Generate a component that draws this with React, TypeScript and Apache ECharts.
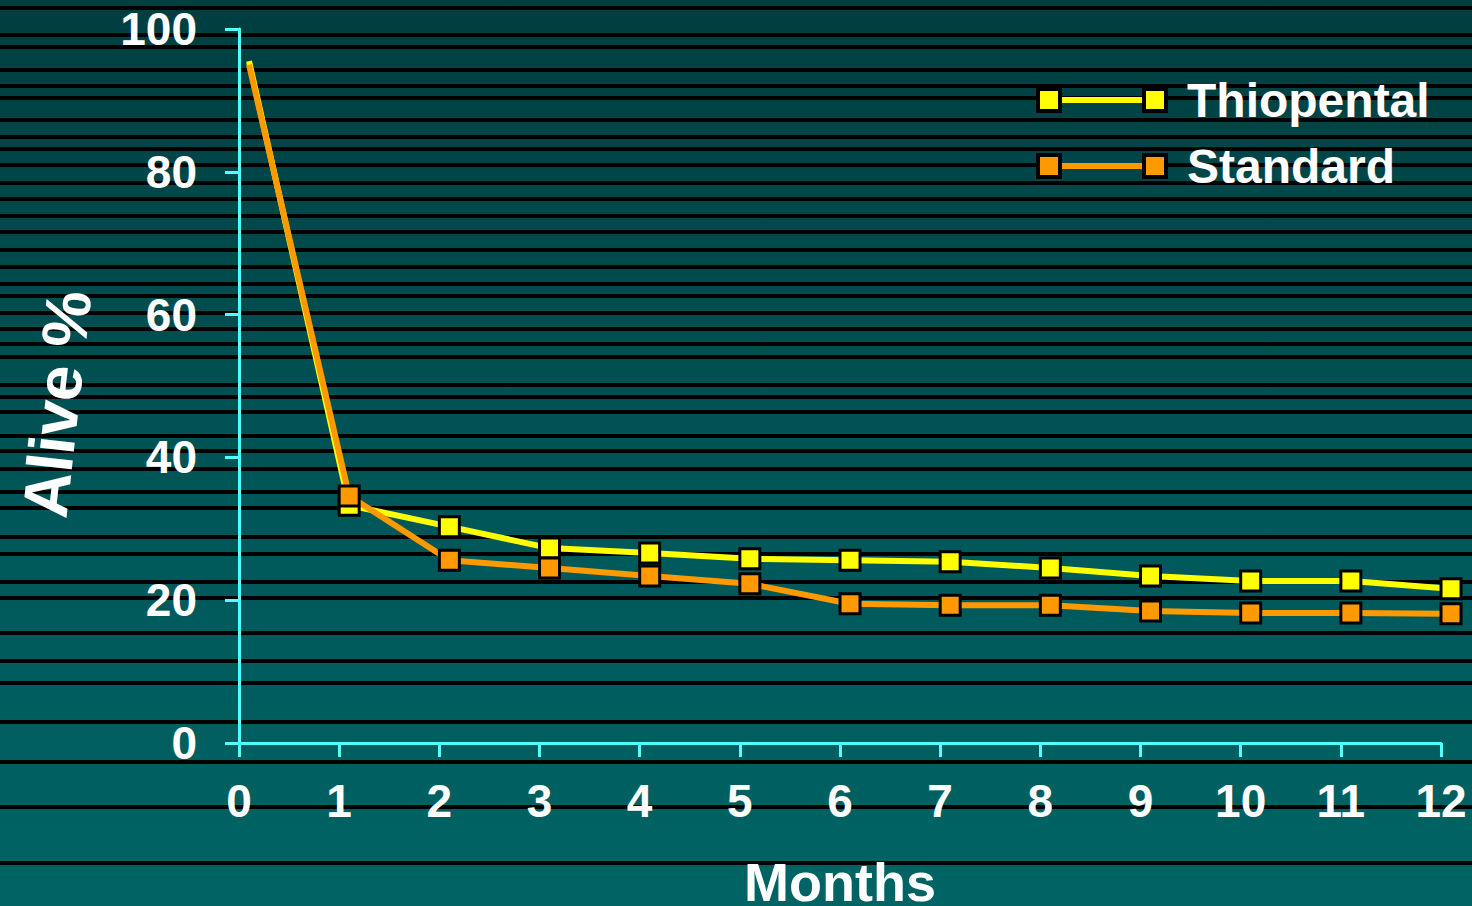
import React, { useEffect, useRef } from "react";
import * as echarts from "echarts";

// ---- Data ----
const monthsX = [0.1, 1.1, 2.1, 3.1, 4.1, 5.1, 6.1, 7.1, 8.1, 9.1, 10.1, 11.1, 12.1];
const thiopental = [95.5, 33.3, 30.3, 27.3, 26.6, 25.8, 25.6, 25.4, 24.5, 23.4, 22.7, 22.7, 21.6];
const standard = [95.0, 34.6, 25.6, 24.5, 23.4, 22.3, 19.5, 19.3, 19.3, 18.5, 18.2, 18.2, 18.1];
const seriesNames = ["Thiopental", "Standard"];
const seriesColors = ["#ffff00", "#ff9900"];
const yTicks = [0, 20, 40, 60, 80, 100];
const xTicks = [0, 1, 2, 3, 4, 5, 6, 7, 8, 9, 10, 11, 12];
const xTitle = "Months";
const yTitle = "Alive %";

// background stripe positions (decoration)
const stripeY = [8, 35, 47, 70, 86, 98, 120, 137, 149, 165, 183, 199, 216, 232, 250, 267, 284, 296, 313, 329, 344, 357, 385, 397, 412, 436, 451, 469, 492, 508, 537, 554, 582, 598, 633, 661, 683, 722, 762, 807, 863];

const FONT = "'Liberation Sans', Arial, sans-serif";

export default function App() {
  const ref = useRef<HTMLDivElement>(null);
  useEffect(() => {
    if (!ref.current) return;
    const chart = echarts.init(ref.current, null, { renderer: "svg" });

    const toPairs = (vals: number[]) =>
      vals.map((v, i) =>
        i === 0 ? { value: [monthsX[i], v], symbol: "none" } : { value: [monthsX[i], v] }
      );

    const stripes = stripeY.map((y) => ({
      type: "rect",
      z: -10,
      silent: true,
      shape: { x: 0, y: y - 2, width: 1472, height: 4 },
      style: { fill: "#000000" },
    }));

    const legendEls: any[] = [];
    seriesNames.forEach((name, i) => {
      const cy = i === 0 ? 100 : 166;
      legendEls.push({
        type: "line",
        shape: { x1: 1050, y1: cy, x2: 1155, y2: cy },
        style: { stroke: seriesColors[i], lineWidth: 6 },
      });
      [1049, 1155].forEach((cx) =>
        legendEls.push({
          type: "rect",
          shape: { x: cx - 11, y: cy - 11, width: 22, height: 22 },
          style: { fill: seriesColors[i], stroke: "#000000", lineWidth: 4 },
        })
      );
      legendEls.push({
        type: "text",
        x: 1187,
        y: cy,
        style: {
          text: name,
          fill: "#ffffff",
          font: `bold 48px ${FONT}`,
          textAlign: "left",
          textVerticalAlign: "middle",
        },
      });
    });

    chart.setOption({
      animation: false,
      backgroundColor: "transparent",
      grid: {
        left: 239,
        top: 29,
        right: 31,
        bottom: 163,
        containLabel: false,
        outerBoundsMode: "none",
      },
      xAxis: {
        type: "value",
        min: 0,
        max: 12,
        interval: 1,
        name: xTitle,
        nameLocation: "middle",
        nameGap: 112,
        nameTextStyle: { color: "#ffffff", fontSize: 54, fontWeight: "bold", fontFamily: FONT },
        axisLine: { show: true, lineStyle: { color: "#55ffff", width: 3 } },
        axisTick: { show: true, length: 14, lineStyle: { color: "#55ffff", width: 3 } },
        splitLine: { show: false },
        axisLabel: {
          color: "#ffffff",
          fontSize: 46,
          fontWeight: "bold",
          fontFamily: FONT,
          margin: 35,
          formatter: (v: number) => (xTicks.includes(v) ? String(v) : ""),
        },
      },
      yAxis: {
        type: "value",
        min: 0,
        max: 100,
        interval: 20,
        axisLine: { show: true, lineStyle: { color: "#55ffff", width: 3 } },
        axisTick: { show: true, length: 14, lineStyle: { color: "#55ffff", width: 3 } },
        splitLine: { show: false },
        axisLabel: {
          color: "#ffffff",
          fontSize: 46,
          fontWeight: "bold",
          fontFamily: FONT,
          margin: 42,
          formatter: (v: number) => (yTicks.includes(v) ? String(v) : ""),
        },
      },
      graphic: [
        ...stripes,
        ...legendEls,
        {
          type: "text",
          x: 57,
          y: 404,
          rotation: 1.46,
          style: {
            text: yTitle,
            fill: "#ffffff",
            font: `bold 64px ${FONT}`,
            textAlign: "center",
            textVerticalAlign: "middle",
          },
        },
      ],
      series: [
        {
          name: seriesNames[0],
          type: "line",
          clip: false,
          data: toPairs(thiopental),
          symbol: "rect",
          symbolSize: 20,
          lineStyle: { color: seriesColors[0], width: 6 },
          itemStyle: { color: seriesColors[0], borderColor: "#000000", borderWidth: 3 },
          z: 3,
        },
        {
          name: seriesNames[1],
          type: "line",
          clip: false,
          data: toPairs(standard),
          symbol: "rect",
          symbolSize: 20,
          lineStyle: { color: seriesColors[1], width: 6 },
          itemStyle: { color: seriesColors[1], borderColor: "#000000", borderWidth: 3 },
          z: 4,
        },
      ],
    });
    return () => chart.dispose();
  }, []);

  return (
    <div
      style={{
        position: "fixed",
        left: 0,
        top: 0,
        width: 1472,
        height: 906,
        background: "linear-gradient(to bottom, #003e40 0%, #00585a 60%, #006464 100%)",
      }}
    >
      <div ref={ref} style={{ width: 1472, height: 906 }} />
    </div>
  );
}
